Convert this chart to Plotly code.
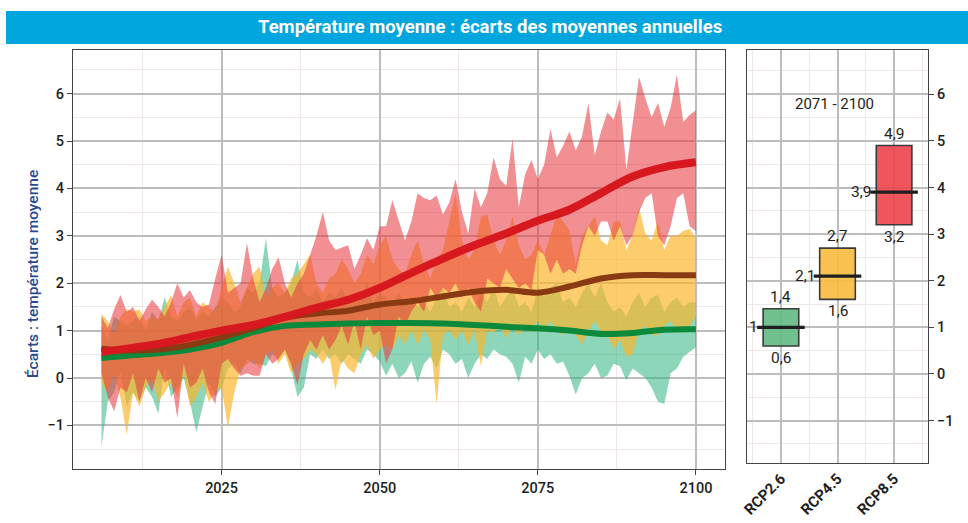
import plotly.graph_objects as go

# ---------------- data ----------------
years = list(range(2006, 2101))

# RCP8.5 envelope (annual)
rcp85_hi = [1.3, 1.05, 1.45, 1.75, 1.4, 1.5, 1.2, 1.45, 1.65, 1.5,
            1.3, 1.6, 2.0, 1.7, 1.85, 1.6, 1.5, 1.55, 2.1, 2.6,
            1.8, 1.9, 2.0, 2.85, 2.1, 1.6, 1.9, 2.3, 2.55, 2.0,
            1.7, 2.0, 2.2, 2.6, 3.0, 3.5, 2.9, 2.7, 2.75, 2.8,
            2.3, 2.6, 2.95, 2.7, 3.2, 3.2, 3.75, 3.3, 2.9, 3.3,
            3.9, 3.8, 3.75, 3.85, 3.45, 3.7, 4.2, 3.5, 3.05, 4.0,
            3.6, 3.9, 4.65, 4.2, 4.05, 5.05, 3.6, 4.3, 4.6, 4.2,
            4.5, 5.25, 4.65, 4.9, 5.2, 4.8, 5.1, 5.8, 4.7, 5.2,
            5.6, 5.45, 5.9, 4.4, 5.4, 6.35, 5.9, 5.5, 5.8, 5.3,
            5.7, 6.4, 5.4, 5.55, 5.65]
rcp85_lo = [0.1, -0.4, -0.7, -0.2, -0.3, 0.1, -0.5, 0.0, -0.3, 0.2,
            -0.1, 0.0, -0.85, 0.3, -0.2, -0.1, 0.2, -0.3, -0.55, 0.3,
            0.4, 0.2, 0.05, 0.1, 0.05, 0.05, 0.5, 0.3, 0.4, 0.6,
            0.3, -0.15, 0.5, 0.8, 0.6, 0.9, 0.6, 0.8, 1.1, 0.7,
            1.2, 0.6, 1.3, 0.9, 1.0, 0.3, 0.6, 1.3, 1.1, 1.4,
            1.6, 1.4, 1.9, 1.7, 1.9, 1.8, 2.0, 1.7, 1.9, 1.6,
            1.4, 2.1, 2.0, 1.9, 2.3, 2.1, 1.9, 2.0, 1.85, 2.7,
            2.6, 2.2, 2.5, 2.2, 2.3, 2.2, 2.8, 3.2, 3.0, 3.3,
            3.3, 2.9, 3.2, 2.8, 3.0, 3.5, 3.8, 3.9, 3.0, 2.8,
            3.2, 3.8, 3.9, 3.2, 3.1]

# RCP4.5 envelope (annual)
rcp45_hi = [1.35, 1.2, 0.9, 1.3, 1.45, 1.4, 1.45, 1.2, 1.3, 1.25,
            1.5, 1.75, 1.3, 1.6, 1.7, 1.3, 1.6, 1.5, 1.4, 1.9,
            2.35, 2.0, 1.6, 1.9, 2.2, 2.35, 1.7, 1.9, 2.0, 1.8,
            2.1, 2.2, 2.4, 2.6, 2.0, 1.8, 2.1, 2.2, 2.5, 2.3,
            2.0, 2.2, 2.6, 2.4, 2.8, 3.0, 2.5, 2.3, 2.2, 2.6,
            2.9, 2.4, 2.1, 2.5, 2.7, 3.3, 3.9, 2.9, 2.5, 2.7,
            3.4, 3.45, 2.9, 2.6, 2.9, 3.4, 2.8, 2.5, 2.6, 2.9,
            2.6, 3.0, 3.45, 3.3, 3.1, 2.4, 3.0, 3.2, 3.4, 2.9,
            2.8, 3.3, 3.3, 2.7, 3.0, 3.6, 3.05, 2.9, 3.3, 2.7,
            3.0, 3.0, 3.1, 3.15, 2.95]
rcp45_lo = [-0.1, -0.3, 0.1, -0.4, -1.2, -0.3, -0.6, -0.2, 0.0, -0.5,
            -0.3, -0.1, -0.4, 0.1, -0.6, -0.4, -0.1, -0.5, -0.3, -0.2,
            -1.05, -0.3, 0.2, 0.3, 0.4, 0.2, 0.5, 0.6, 0.3, 0.5,
            0.1, 0.3, 0.4, 0.6, 0.5, 0.3, 0.5, -0.25, 0.4, 0.2,
            0.1, 0.5, 0.7, 0.4, 0.6, 0.7, 0.6, 0.9, 0.7, 1.0,
            0.7, 1.0, 0.8, -0.55, 0.9, 1.0, 0.8, 1.0, 0.7, 1.0,
            0.25, 1.0, 0.95, 1.1, 0.85, 1.05, 0.9, 1.1, 0.95, 1.2,
            1.0, 1.2, 1.0, 0.9, 1.1, 0.9, 0.7, 1.0, 1.2, 1.0,
            0.9, 0.6, 0.8, 0.45, 0.5, 1.0, 1.1, 0.9, 0.9, 1.1,
            1.2, 1.0, 0.95, 1.1, 1.3]

# RCP2.6 envelope (annual)
rcp26_hi = [1.1, 0.8, 1.3, 1.2, 1.1, 1.2, 1.3, 1.0, 1.4, 1.2,
            1.7, 1.3, 1.2, 1.4, 1.5, 1.2, 1.4, 1.3, 1.5, 1.7,
            1.6, 1.4, 1.5, 1.9, 1.8, 2.0, 2.95, 1.9, 1.7, 1.8,
            2.0, 2.5, 1.8, 1.7, 1.9, 1.6, 1.8, 1.7, 1.9, 1.6,
            1.8, 1.7, 2.0, 1.6, 1.8, 1.7, 1.5, 1.8, 1.6, 1.7,
            1.5, 1.6, 1.4, 1.7, 1.9, 1.5, 1.6, 1.4, 1.7, 1.5,
            1.8, 1.6, 1.9, 1.5, 1.7, 1.9, 1.5, 1.6, 1.4, 1.9,
            1.7, 1.9, 2.0, 1.6, 1.7, 1.5, 1.8, 2.0, 1.7, 2.0,
            1.6, 1.4, 1.5, 1.3, 1.6, 1.8, 1.5, 1.7, 1.75, 1.4,
            1.6, 1.7, 1.5, 1.6, 1.6]
rcp26_lo = [-1.45, -0.5, -0.3, 0.15, -0.6, -0.3, -0.5, -0.2, -0.4, -0.75,
            0.25, -0.4, -0.2, 0.0, -0.5, -1.15, -0.6, -0.1, -0.4, -0.2,
            0.2, 0.3, 0.1, 0.4, 0.3, 0.3, 0.25, 0.5, 0.4, 0.6,
            0.2, -0.4, -0.2, 0.5, 0.4, 0.6, 0.4, 0.5, 0.3, 0.5,
            0.4, 0.3, 0.6, 0.5, 0.35, 0.05, 0.3, 0.0, 0.1, 0.35,
            -0.1, 0.3, 0.45, 0.2, 0.6, 0.5, 0.3, 0.4, 0.0, 0.3,
            0.5, 0.4, 0.6, 0.5, 0.45, 0.3, -0.1, 0.45, 0.3, 0.6,
            0.4, 0.5, 0.3, 0.35, 0.05, -0.35, 0.0, 0.1, 0.3, 0.0,
            0.05, 0.3, 0.25, -0.05, 0.2, 0.1, 0.0, -0.2, -0.5, -0.55,
            0.1, 0.2, 0.45, 0.55, 0.65]

# smoothed multi-model means
mean_years = [2006, 2010, 2015, 2020, 2025, 2030, 2035, 2040, 2045, 2050,
              2055, 2060, 2065, 2070, 2075, 2080, 2085, 2090, 2095, 2100]
rcp85_mean = [0.55, 0.62, 0.72, 0.86, 1.0, 1.12, 1.29, 1.48, 1.65, 1.9,
              2.22, 2.52, 2.8, 3.05, 3.32, 3.55, 3.9, 4.25, 4.45, 4.55]
rcp45_mean = [0.62, 0.58, 0.6, 0.7, 0.86, 1.05, 1.27, 1.36, 1.42, 1.55,
              1.62, 1.72, 1.82, 1.86, 1.8, 1.93, 2.1, 2.17, 2.17, 2.17]
rcp26_mean = [0.42, 0.47, 0.52, 0.6, 0.74, 0.97, 1.1, 1.13, 1.15, 1.16,
              1.16, 1.15, 1.12, 1.08, 1.05, 1.0, 0.93, 0.95, 1.02, 1.03]

# 2071-2100 summary
scenarios = ["RCP2.6", "RCP4.5", "RCP8.5"]
box_low = [0.6, 1.6, 3.2]
box_med = [1.0, 2.1, 3.9]
box_high = [1.4, 2.7, 4.9]
period_label = "2071 - 2100"

x_ticks = [2025, 2050, 2075, 2100]
y_ticks = [-1, 0, 1, 2, 3, 4, 5, 6]

title_text = "Température moyenne : écarts des moyennes annuelles"
y_title = "Écarts : température moyenne"

# ---------------- styles ----------------
band_fill = {"RCP2.6": "rgba(50,180,130,0.55)",
             "RCP4.5": "rgba(252,180,40,0.68)",
             "RCP8.5": "rgba(232,55,62,0.56)"}
line_col = {"RCP2.6": "#0B8A3C", "RCP4.5": "#8A3A12", "RCP8.5": "#D7191F"}
line_w = {"RCP2.6": 6, "RCP4.5": 6, "RCP8.5": 8}
box_fill = ["rgba(96,186,130,0.9)", "rgba(248,186,60,0.9)", "rgba(236,66,74,0.9)"]

W, H = 968, 523
def px(x):
    return x / W
def py(y):
    return 1 - y / H

fig = go.Figure()

bands = [("RCP2.6", rcp26_lo, rcp26_hi), ("RCP4.5", rcp45_lo, rcp45_hi),
         ("RCP8.5", rcp85_lo, rcp85_hi)]
for name, lo, hi in bands:
    fig.add_trace(go.Scatter(x=years, y=lo, mode="lines", line=dict(width=0),
                             showlegend=False, hoverinfo="skip"))
    fig.add_trace(go.Scatter(x=years, y=hi, mode="lines", line=dict(width=0),
                             fill="tonexty", fillcolor=band_fill[name],
                             showlegend=False, name=name))

for name, m in [("RCP2.6", rcp26_mean), ("RCP4.5", rcp45_mean), ("RCP8.5", rcp85_mean)]:
    fig.add_trace(go.Scatter(x=mean_years, y=m, mode="lines",
                             line=dict(color=line_col[name], width=line_w[name],
                                       shape="spline", smoothing=1.0),
                             showlegend=False, name=name))

# right panel boxes
xpos = list(range(len(scenarios)))
box_w = 0.63
for i, s in enumerate(scenarios):
    fig.add_trace(go.Box(x=[xpos[i]], q1=[box_low[i]], median=[box_med[i]],
                         q3=[box_high[i]], lowerfence=[box_low[i]],
                         upperfence=[box_high[i]], width=box_w,
                         fillcolor=box_fill[i], line=dict(color="#3a3a3a", width=1.6),
                         xaxis="x2", yaxis="y2", showlegend=False, name=s,
                         whiskerwidth=0))
fig.add_trace(go.Scatter(x=xpos, y=box_med, mode="markers", xaxis="x2", yaxis="y2",
                         marker=dict(symbol="line-ew-open", size=34, color="#1e1e1e",
                                     line=dict(color="#1e1e1e", width=3.2)),
                         showlegend=False, hoverinfo="skip"))

def fmt(v):
    return f"{v:g}".replace(".", ",")

lab_font = dict(family="Roboto", size=15.5, color="#1e1e1e")
for i, s in enumerate(scenarios):
    fig.add_annotation(x=xpos[i], y=box_high[i], xref="x2", yref="y2", text=fmt(box_high[i]),
                       showarrow=False, xanchor="center", yanchor="bottom", yshift=1, font=lab_font)
    fig.add_annotation(x=xpos[i], y=box_low[i], xref="x2", yref="y2", text=fmt(box_low[i]),
                       showarrow=False, xanchor="center", yanchor="top", yshift=-1, font=lab_font)
    fig.add_annotation(x=xpos[i] - box_w / 2, y=box_med[i], xref="x2", yref="y2",
                       text=fmt(box_med[i]), showarrow=False, xanchor="right", yanchor="middle",
                       xshift=-3, font=lab_font)
fig.add_annotation(x=0.95, y=5.8, xref="x2", yref="y2", text=period_label, showarrow=False,
                   xanchor="center", yanchor="middle",
                   font=dict(family="Roboto", size=15, color="#1e1e1e"))

# title bar
fig.add_shape(type="rect", xref="paper", yref="paper", x0=px(6), x1=1, y0=py(44), y1=py(11),
              fillcolor="#00A6DD", line=dict(width=0), layer="below")
fig.add_annotation(x=px(490), y=py(27.5), xref="paper", yref="paper", text="<b>" + title_text + "</b>",
                   showarrow=False, xanchor="center", yanchor="middle",
                   font=dict(family="Roboto", size=18.5, color="white"))
# y title
fig.add_annotation(x=px(33), y=py(274), xref="paper", yref="paper", text=y_title,
                   textangle=-90, showarrow=False, xanchor="center", yanchor="middle",
                   font=dict(family="Roboto", size=15.5, color="#2B4B8E", weight=500))

grid_major = "#BDBDBD"
grid_minor = "#EFE6E6"
tick_font = dict(family="Roboto", size=14.5, color="#1e1e1e", weight=500)

fig.update_layout(
    width=W, height=H, margin=dict(l=0, r=0, t=0, b=0, autoexpand=False),
    paper_bgcolor="white", plot_bgcolor="white",
    xaxis=dict(domain=[px(73), px(725)], range=[2001.5, 2104.6], automargin=False,
               tickvals=x_ticks, ticks="outside", ticklen=5, tickcolor="#444",
               showgrid=True, gridcolor=grid_major, gridwidth=1.6,
               minor=dict(tickvals=[2012.5, 2037.5, 2062.5, 2087.5], showgrid=True,
                          gridcolor=grid_minor, gridwidth=1.2, ticks=""),
               showline=True, mirror=True, linecolor="#444", linewidth=1.4,
               zeroline=False, tickfont=tick_font),
    yaxis=dict(domain=[py(469), py(50)], range=[-1.92, 6.92], automargin=False,
               tickvals=y_ticks, ticks="outside", ticklen=5, tickcolor="#444",
               showgrid=True, gridcolor=grid_major, gridwidth=1.6,
               minor=dict(tickvals=[v + 0.5 for v in [-2] + y_ticks], showgrid=True,
                          gridcolor=grid_minor, gridwidth=1.2, ticks=""),
               showline=True, mirror=True, linecolor="#444", linewidth=1.4,
               zeroline=False, tickfont=tick_font),
    xaxis2=dict(domain=[px(747), px(928)], range=[-0.6, 2.6], anchor="y2", automargin=False,
                tickvals=xpos, ticktext=["<b>" + s + "</b>" for s in scenarios],
                tickangle=-45, ticks="", showgrid=True, gridcolor=grid_major, gridwidth=1.6,
                minor=dict(tickvals=[-0.5, 0.5, 1.5, 2.5], showgrid=True,
                           gridcolor=grid_minor, gridwidth=1.0, ticks=""),
                showline=True, mirror=True, linecolor="#444", linewidth=1.4,
                zeroline=False, tickfont=dict(family="Roboto", size=15, color="#1e1e1e")),
    yaxis2=dict(domain=[py(463), py(50)], range=[-1.91, 6.95], anchor="x2", side="right",
                automargin=False,
                tickvals=y_ticks, ticks="outside", ticklen=5, tickcolor="#444",
                showgrid=True, gridcolor=grid_major, gridwidth=1.6,
                minor=dict(tickvals=[v + 0.5 for v in [-2] + y_ticks], showgrid=True,
                           gridcolor=grid_minor, gridwidth=1.2, ticks=""),
                showline=True, mirror=True, linecolor="#444", linewidth=1.4,
                zeroline=False, tickfont=tick_font),
    showlegend=False,
)

fig.write_html("out.html", config={"displayModeBar": False},
               post_script="document.body.style.margin='0';document.body.style.overflow='hidden';")
